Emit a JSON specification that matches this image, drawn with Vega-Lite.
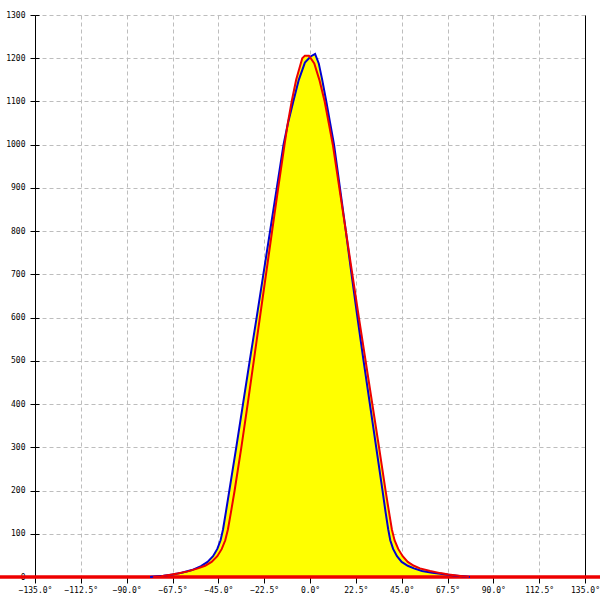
{
  "$schema": "https://vega.github.io/schema/vega-lite/v6.json",
  "autosize": {"type": "none"},
  "width": 550,
  "height": 562,
  "padding": {"left": 35, "top": 15, "right": 15, "bottom": 23},
  "background": "white",
  "config": {
    "view": {"stroke": null},
    "font": "DejaVu Sans Mono",
    "axis": {
      "labelFont": "DejaVu Sans Mono",
      "labelFontSize": 8,
      "labelColor": "#000000",
      "domainColor": "#000000",
      "tickColor": "#000000",
      "gridColor": "#bdbdbd",
      "gridDash": [4, 3],
      "gridWidth": 1,
      "title": null
    }
  },
  "datasets": {
    "fill": [
      {"x": -78.5, "y": 0}, {"x": -76, "y": 1}, {"x": -72, "y": 3}, {"x": -67.5, "y": 6},
      {"x": -63, "y": 10}, {"x": -58, "y": 16}, {"x": -53.5, "y": 25}, {"x": -50.3, "y": 35},
      {"x": -47.6, "y": 48}, {"x": -45.5, "y": 65}, {"x": -43.9, "y": 85}, {"x": -42.7, "y": 110},
      {"x": -41.3, "y": 150}, {"x": -39.6, "y": 200}, {"x": -36.2, "y": 300}, {"x": -32.9, "y": 400},
      {"x": -29.6, "y": 500}, {"x": -26.2, "y": 600}, {"x": -22.9, "y": 700}, {"x": -19.6, "y": 800},
      {"x": -16.3, "y": 900}, {"x": -13, "y": 1000}, {"x": -10.9, "y": 1050}, {"x": -9, "y": 1100},
      {"x": -6.8, "y": 1150}, {"x": -3.8, "y": 1200}, {"x": -2.5, "y": 1206}, {"x": -0.5, "y": 1206},
      {"x": 0.3, "y": 1204}, {"x": 2.5, "y": 1210}, {"x": 4.3, "y": 1188}, {"x": 6, "y": 1150},
      {"x": 8, "y": 1100}, {"x": 9.9, "y": 1050}, {"x": 11.8, "y": 1000}, {"x": 14.7, "y": 900},
      {"x": 17.6, "y": 800}, {"x": 20.8, "y": 700}, {"x": 24, "y": 600}, {"x": 27.3, "y": 500},
      {"x": 30.6, "y": 400}, {"x": 33.9, "y": 300}, {"x": 37.1, "y": 200}, {"x": 38.8, "y": 150},
      {"x": 40.2, "y": 110}, {"x": 41.5, "y": 85}, {"x": 43.3, "y": 65}, {"x": 45.5, "y": 48},
      {"x": 48, "y": 35}, {"x": 51, "y": 26}, {"x": 54, "y": 20}, {"x": 59, "y": 14},
      {"x": 64, "y": 9}, {"x": 68, "y": 6}, {"x": 73, "y": 3}, {"x": 78.5, "y": 0}
    ],
    "baseline": [
      {"x": -180, "y": 0}, {"x": 180, "y": 0}
    ],
    "blue": [
      {"x": -78.5, "y": 0}, {"x": -76, "y": 1}, {"x": -72, "y": 3}, {"x": -67.5, "y": 6},
      {"x": -63, "y": 10}, {"x": -58, "y": 16}, {"x": -53.5, "y": 25}, {"x": -50.3, "y": 35},
      {"x": -47.6, "y": 48}, {"x": -45.5, "y": 65}, {"x": -43.9, "y": 85}, {"x": -42.7, "y": 110},
      {"x": -41.3, "y": 150}, {"x": -39.6, "y": 200}, {"x": -36.2, "y": 300}, {"x": -32.9, "y": 400},
      {"x": -29.6, "y": 500}, {"x": -26.2, "y": 600}, {"x": -22.9, "y": 700}, {"x": -19.6, "y": 800},
      {"x": -16.3, "y": 900}, {"x": -13, "y": 1000}, {"x": -10.8, "y": 1050}, {"x": -8.2, "y": 1100},
      {"x": -5.5, "y": 1150}, {"x": -2.5, "y": 1190}, {"x": 0.3, "y": 1204}, {"x": 2.5, "y": 1210},
      {"x": 4.3, "y": 1188}, {"x": 6, "y": 1150}, {"x": 8, "y": 1100}, {"x": 9.9, "y": 1050},
      {"x": 11.8, "y": 1000}, {"x": 14.7, "y": 900}, {"x": 17.6, "y": 800}, {"x": 20.4, "y": 700},
      {"x": 23.3, "y": 600}, {"x": 26.3, "y": 500}, {"x": 29.4, "y": 400}, {"x": 32.5, "y": 300},
      {"x": 35.6, "y": 200}, {"x": 37.1, "y": 150}, {"x": 38.4, "y": 110}, {"x": 39.4, "y": 85},
      {"x": 40.8, "y": 65}, {"x": 42.7, "y": 48}, {"x": 45, "y": 35}, {"x": 48, "y": 26},
      {"x": 51, "y": 20}, {"x": 55, "y": 14}, {"x": 60, "y": 10}, {"x": 67, "y": 6},
      {"x": 72, "y": 3}, {"x": 76, "y": 1}, {"x": 78.5, "y": 0}
    ],
    "red": [
      {"x": -77, "y": 0}, {"x": -73, "y": 2}, {"x": -68.5, "y": 5}, {"x": -65, "y": 8},
      {"x": -60, "y": 13}, {"x": -55, "y": 20}, {"x": -51.5, "y": 26}, {"x": -48.3, "y": 35},
      {"x": -45.5, "y": 48}, {"x": -43.3, "y": 65}, {"x": -41.6, "y": 85}, {"x": -40.3, "y": 110},
      {"x": -38.8, "y": 150}, {"x": -37, "y": 200}, {"x": -33.7, "y": 300}, {"x": -30.6, "y": 400},
      {"x": -27.6, "y": 500}, {"x": -24.6, "y": 600}, {"x": -21.6, "y": 700}, {"x": -18.6, "y": 800},
      {"x": -15.6, "y": 900}, {"x": -12.5, "y": 1000}, {"x": -10.9, "y": 1050}, {"x": -9, "y": 1100},
      {"x": -6.8, "y": 1150}, {"x": -3.8, "y": 1200}, {"x": -2.5, "y": 1206}, {"x": -0.5, "y": 1206},
      {"x": 2.1, "y": 1188}, {"x": 4.6, "y": 1150}, {"x": 7.2, "y": 1100}, {"x": 9.2, "y": 1050},
      {"x": 11.2, "y": 1000}, {"x": 14.4, "y": 900}, {"x": 17.6, "y": 800}, {"x": 20.8, "y": 700},
      {"x": 24, "y": 600}, {"x": 27.3, "y": 500}, {"x": 30.6, "y": 400}, {"x": 33.9, "y": 300},
      {"x": 37.1, "y": 200}, {"x": 38.8, "y": 150}, {"x": 40.2, "y": 110}, {"x": 41.5, "y": 85},
      {"x": 43.3, "y": 65}, {"x": 45.5, "y": 48}, {"x": 48, "y": 35}, {"x": 51, "y": 26},
      {"x": 54, "y": 20}, {"x": 59, "y": 14}, {"x": 64, "y": 9}, {"x": 68, "y": 6},
      {"x": 73, "y": 3}, {"x": 78, "y": 0}
    ]
  },
  "encoding": {
    "x": {
      "field": "x",
      "type": "quantitative",
      "scale": {"domain": [-135, 135], "nice": false, "zero": false},
      "axis": {
        "values": [-135, -112.5, -90, -67.5, -45, -22.5, 0, 22.5, 45, 67.5, 90, 112.5, 135],
        "labelExpr": "format(datum.value, '.1f') + '°'",
        "tickSize": 6,
        "labelPadding": 3,
        "grid": true,
        "domain": true,
        "labelFlush": false,
        "labelOverlap": false
      }
    }
  },
  "layer": [
    {
      "data": {"name": "fill"},
      "mark": {"type": "area", "color": "#ffff00", "interpolate": "linear"},
      "encoding": {
        "y": {
          "field": "y",
          "type": "quantitative",
          "scale": {"domain": [0, 1300], "nice": false},
          "axis": {
            "orient": "left",
            "values": [0, 100, 200, 300, 400, 500, 600, 700, 800, 900, 1000, 1100, 1200, 1300],
            "format": "d",
            "tickSize": 5,
            "labelPadding": 5,
            "grid": true,
            "domain": true,
            "labelFlush": false,
            "labelOverlap": false
          }
        }
      }
    },
    {
      "data": {"name": "baseline"},
      "mark": {"type": "line", "color": "#ee0000", "strokeWidth": 3.5},
      "encoding": {
        "y": {"field": "y", "type": "quantitative", "axis": null}
      }
    },
    {
      "data": {"name": "blue"},
      "mark": {"type": "line", "color": "#0000d0", "strokeWidth": 2},
      "encoding": {
        "y": {
          "field": "y",
          "type": "quantitative",
          "axis": {
            "orient": "left",
            "values": [0, 100, 200, 300, 400, 500, 600, 700, 800, 900, 1000, 1100, 1200, 1300],
            "tickSize": -4,
            "labels": false,
            "grid": false,
            "domain": false
          }
        }
      }
    },
    {
      "data": {"name": "red"},
      "mark": {"type": "line", "color": "#ee0000", "strokeWidth": 2},
      "encoding": {
        "y": {
          "field": "y",
          "type": "quantitative",
          "axis": {
            "orient": "right",
            "labels": false,
            "ticks": false,
            "grid": false,
            "domain": true
          }
        }
      }
    }
  ],
  "resolve": {"axis": {"y": "independent"}}
}
